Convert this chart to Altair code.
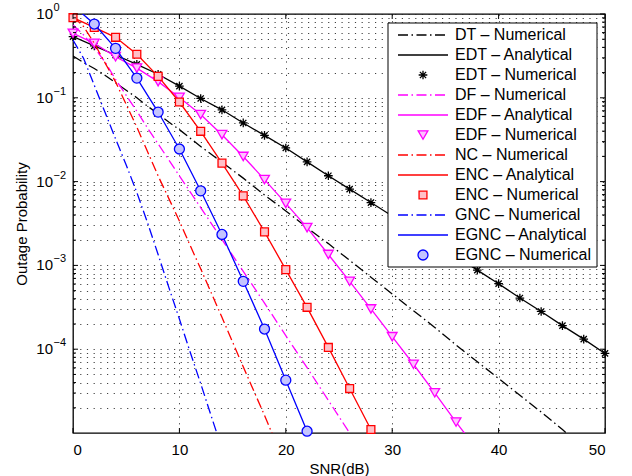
import altair as alt
import pandas as pd

# ---------------- data ----------------
SERIES = ["DT – Numerical", "EDT – Analytical", "EDT – Numerical",
          "DF – Numerical", "EDF – Analytical", "EDF – Numerical",
          "NC – Numerical", "ENC – Analytical", "ENC – Numerical",
          "GNC – Numerical", "EGNC – Analytical", "EGNC – Numerical"]

DT_SNR = [0, 1, 2, 3, 4, 5, 6, 7, 8, 9, 10, 12, 14, 16, 18, 20, 22, 24, 26, 28,
          30, 32, 34, 36, 38, 40, 42, 44, 46, 47]
DT_P = [0.316, 0.263, 0.224, 0.186, 0.151, 0.123, 0.100, 0.0794, 0.0646, 0.0513,
        0.0417, 0.0263, 0.0170, 0.0110, 0.00692, 0.00447, 0.00282, 0.00182,
        0.00115, 7.24e-4, 4.57e-4, 2.88e-4, 1.82e-4, 1.12e-4, 7.08e-5, 4.47e-5,
        2.82e-5, 1.78e-5, 1.10e-5, 8.5e-6]

EDT_A_SNR = [0, 2, 4, 6, 8, 10, 12, 14, 16, 18, 20, 22, 24, 26, 28, 30, 32, 34,
             36, 38, 40, 42, 44, 46, 48, 50]
EDT_A_P = [0.537, 0.417, 0.324, 0.251, 0.191, 0.138, 0.0982, 0.0719, 0.0501,
           0.0356, 0.0252, 0.0172, 0.01175, 0.00813, 0.00562, 0.00389, 0.00269,
           0.00186, 0.00129, 8.79e-4, 6.05e-4, 4.08e-4, 2.82e-4, 1.91e-4,
           1.32e-4, 8.9e-5]
EDT_N_SNR = [0, 2, 4, 6, 8, 10, 12, 14, 16, 18, 20, 22, 24, 26, 28, 30, 32, 34,
             36, 38, 40, 42, 44, 46, 48, 50]
EDT_N_P = [0.537, 0.417, 0.324, 0.251, 0.191, 0.138, 0.0982, 0.0719, 0.0501,
           0.0356, 0.0252, 0.0172, 0.01175, 0.00813, 0.00562, 0.00389, 0.00269,
           0.00186, 0.00129, 8.79e-4, 6.05e-4, 4.08e-4, 2.82e-4, 1.91e-4,
           1.32e-4, 8.9e-5]

DF_SNR = [0, 1, 2, 3, 4, 5, 6, 7, 8, 9, 10, 12, 14, 16, 18, 20, 22, 24, 26, 27]
DF_P = [0.741, 0.562, 0.398, 0.269, 0.166, 0.107, 0.0692, 0.0437, 0.0282, 0.0182,
        0.0117, 0.0049, 0.00204, 8.51e-4, 3.55e-4, 1.45e-4, 6.03e-5, 2.45e-5,
        1.0e-5, 5.8e-6]

EDF_A_SNR = [0, 2, 4, 6, 8, 10, 12, 14, 16, 18, 20, 22, 24, 26, 28, 30, 32, 34,
             36, 38]
EDF_A_P = [0.589, 0.447, 0.309, 0.226, 0.156, 0.101, 0.0631, 0.0363, 0.01995,
           0.01057, 0.0055, 0.00282, 0.00135, 6.46e-4, 3.02e-4, 1.41e-4, 6.61e-5,
           3.02e-5, 1.35e-5, 6.3e-6]
EDF_N_SNR = [0, 2, 4, 6, 8, 10, 12, 14, 16, 18, 20, 22, 24, 26, 28, 30, 32, 34, 36]
EDF_N_P = [0.589, 0.447, 0.309, 0.226, 0.156, 0.101, 0.0631, 0.0363, 0.01995,
           0.01057, 0.0055, 0.00282, 0.00135, 6.46e-4, 3.02e-4, 1.41e-4, 6.61e-5,
           3.02e-5, 1.35e-5]

NC_SNR = [0, 1, 2, 3, 4, 5, 6, 7, 8, 9, 10, 11, 12, 14, 16, 18, 19]
NC_P = [0.933, 0.708, 0.447, 0.263, 0.155, 0.0832, 0.0447, 0.0229, 0.0117,
        0.00631, 0.00339, 0.00174, 9.12e-4, 2.40e-4, 6.17e-5, 1.62e-5, 8.1e-6]

ENC_A_SNR = [0, 2, 4, 6, 8, 10, 12, 14, 16, 18, 20, 22, 24, 26, 28, 30]
ENC_A_P = [0.904, 0.692, 0.527, 0.331, 0.180, 0.0891, 0.0398, 0.0166, 0.00676,
           0.00251, 8.91e-4, 3.16e-4, 1.05e-4, 3.39e-5, 1.10e-5, 3.5e-6]
ENC_N_SNR = [0, 2, 4, 6, 8, 10, 12, 14, 16, 18, 20, 22, 24, 26, 28]
ENC_N_P = [0.904, 0.692, 0.527, 0.331, 0.180, 0.0891, 0.0398, 0.0166, 0.00676,
           0.00251, 8.91e-4, 3.16e-4, 1.05e-4, 3.39e-5, 1.10e-5]

GNC_SNR = [0, 1, 2, 3, 4, 5, 6, 7, 8, 9, 10, 11, 12, 13, 14]
GNC_P = [0.49, 0.295, 0.141, 0.0676, 0.0324, 0.0158, 0.00741, 0.00324, 0.00135,
         5.5e-4, 2.29e-4, 9.33e-5, 3.89e-5, 1.58e-5, 6.5e-6]

EGNC_A_SNR = [0, 2, 4, 6, 8, 10, 12, 14, 16, 18, 20, 22, 24]
EGNC_A_P = [1.26, 0.759, 0.389, 0.172, 0.0676, 0.0245, 0.00776, 0.00234, 6.46e-4,
            1.74e-4, 4.27e-5, 1.05e-5, 2.5e-6]
EGNC_N_SNR = [2, 4, 6, 8, 10, 12, 14, 16, 18, 20, 22]
EGNC_N_P = [0.759, 0.389, 0.172, 0.0676, 0.0245, 0.00776, 0.00234, 6.46e-4,
            1.74e-4, 4.27e-5, 1.05e-5]

X_TICKS = [0, 10, 20, 30, 40, 50]
Y_LABEL_VALUES = [1, 0.1, 0.01, 0.001, 0.0001]
Y_LABEL_EXP = ["0", "−1", "−2", "−3", "−4"]
Y_MINOR = [m * 10.0 ** e for e in range(-5, 0) for m in range(2, 10)]

# ---------------- styles ----------------
FONT = "Liberation Sans"
W, H = 532, 419
DASHDOT = [10, 3.5, 1.5, 3.5]
LW = 1.3
BLACK, MAGENTA, RED, BLUE = "#000000", "#ff00ff", "#ff0000", "#0000ff"
ASTERISK = "M-1,0L1,0M0,-1L0,1M-0.72,-0.72L0.72,0.72M-0.72,0.72L0.72,-0.72"

LEG_KIND = ["dashdot", "solid", "marker"] * 4
LEG_COLOR = [BLACK] * 3 + [MAGENTA] * 3 + [RED] * 3 + [BLUE] * 3
LEG_SHAPE = ["", "", ASTERISK, "", "", "triangle-down", "", "", "square", "", "", "circle"]
LEG_FILL = ["", "", "transparent", "", "", "#ffc0ff", "", "", "#ffc0c8", "", "", "#c4c4ff"]
LEG_SIZE = [0, 0, 75, 0, 0, 95, 0, 0, 62, 0, 0, 100]

xs = alt.Scale(domain=[0, 50], nice=False, zero=False)
ys = alt.Scale(type="log", domain=[1e-5, 1], nice=False)

X_AXIS = alt.Axis(values=X_TICKS, grid=True, gridDash=[1.2, 5.5], gridColor="#222",
                  gridOpacity=0.85, ticks=False, domain=False, labelFont=FONT,
                  labelFontSize=15, labelColor="#000", labelPadding=9,
                  title="SNR(dB)", titleFont=FONT, titleFontSize=15,
                  titleFontWeight="normal", titleColor="#000", titlePadding=4)
Y_AXIS = alt.Axis(values=Y_LABEL_VALUES + Y_MINOR, grid=True, gridDash=[1.2, 5.5],
                  gridColor="#222", gridOpacity=0.85, ticks=False, labels=False,
                  domain=False, title="Outage Probability", titleFont=FONT,
                  titleFontSize=15, titleFontWeight="normal", titleColor="#000",
                  titleX=-47, titleY=H / 2, titleAngle=-90,
                  titleBaseline="alphabetic", titleAlign="center")


def xq(field):
    return alt.X(f"{field}:Q", scale=xs, axis=X_AXIS)


def yq(field):
    return alt.Y(f"{field}:Q", scale=ys, axis=Y_AXIS)


def df(snr, p):
    return pd.DataFrame({"snr": snr, "p": p})


def line(snr, p, color, dashed):
    kw = dict(color=color, strokeWidth=LW, clip=True)
    if dashed:
        kw["strokeDash"] = DASHDOT
    return alt.Chart(df(snr, p)).mark_line(**kw).encode(x=xq("snr"), y=yq("p"))


def points(snr, p, shape, stroke, fill, size):
    return alt.Chart(df(snr, p)).mark_point(
        shape=shape, filled=True, fill=fill, stroke=stroke, strokeWidth=LW,
        size=size, opacity=1, clip=False
    ).encode(x=xq("snr"), y=yq("p"))


layers = [
    line(DT_SNR, DT_P, BLACK, True),
    line(EDT_A_SNR, EDT_A_P, BLACK, False),
    points(EDT_N_SNR, EDT_N_P, ASTERISK, BLACK, "transparent", 75),
    line(DF_SNR, DF_P, MAGENTA, True),
    line(EDF_A_SNR, EDF_A_P, MAGENTA, False),
    points(EDF_N_SNR, EDF_N_P, "triangle-down", MAGENTA, "#ffc0ff", 95),
    line(NC_SNR, NC_P, RED, True),
    line(ENC_A_SNR, ENC_A_P, RED, False),
    points(ENC_N_SNR, ENC_N_P, "square", RED, "#ffc0c8", 62),
    line(GNC_SNR, GNC_P, BLUE, True),
    line(EGNC_A_SNR, EGNC_A_P, BLUE, False),
    points(EGNC_N_SNR, EGNC_N_P, "circle", BLUE, "#c4c4ff", 100),
]

# inward ticks on all four sides
xt = pd.DataFrame({"v": X_TICKS})
ymaj = pd.DataFrame({"v": Y_LABEL_VALUES})
ymin = pd.DataFrame({"v": Y_MINOR})
tick_kw = dict(color="#000", strokeWidth=1)
for y0, y1 in [(H, H - 5), (0, 5)]:
    layers.append(alt.Chart(xt).mark_rule(**tick_kw).encode(
        x=xq("v"), y=alt.value(y0), y2=alt.value(y1)))
for data, ln in [(ymaj, 5), (ymin, 3)]:
    for x0, x1 in [(0, ln), (W, W - ln)]:
        layers.append(alt.Chart(data).mark_rule(**tick_kw).encode(
            y=yq("v"), x=alt.value(x0), x2=alt.value(x1)))

# y tick labels 10^k
ylab = pd.DataFrame({"v": Y_LABEL_VALUES, "base": "10", "exp": Y_LABEL_EXP})
layers.append(alt.Chart(ylab).mark_text(
    align="right", baseline="middle", font=FONT, fontSize=15, color="#000"
).encode(x=alt.value(-20), y=yq("v"), text="base:N"))
layers.append(alt.Chart(ylab).mark_text(
    align="left", baseline="middle", font=FONT, fontSize=11, color="#000", dy=-6
).encode(x=alt.value(-19.5), y=yq("v"), text="exp:N"))

# legend
leg = pd.DataFrame({"label": SERIES, "row": list(range(len(SERIES))), "kind": LEG_KIND,
                    "color": LEG_COLOR, "shape": LEG_SHAPE, "fill": LEG_FILL,
                    "msize": LEG_SIZE})
LEG_Y0, LEG_DY = 21, 20
leg_base = alt.Chart(leg).transform_calculate(py=f"{LEG_Y0} + {LEG_DY} * datum.row")
ypix = alt.Y("py:Q", scale=None, axis=None)

layers.append(alt.Chart(pd.DataFrame({"a": [0]})).mark_rect(
    fill="white", stroke="#000", strokeWidth=1
).encode(x=alt.value(315), x2=alt.value(524), y=alt.value(9), y2=alt.value(253)))
layers.append(leg_base.transform_filter("datum.kind == 'dashdot'").mark_rule(
    strokeDash=DASHDOT, strokeWidth=LW
).encode(x=alt.value(325), x2=alt.value(375), y=ypix,
         color=alt.Color("color:N", scale=None)))
layers.append(leg_base.transform_filter("datum.kind == 'solid'").mark_rule(
    strokeWidth=LW
).encode(x=alt.value(325), x2=alt.value(375), y=ypix,
         color=alt.Color("color:N", scale=None)))
layers.append(leg_base.transform_filter("datum.kind == 'marker'").mark_point(
    filled=True, opacity=1, strokeWidth=LW
).encode(x=alt.value(350), y=ypix,
         shape=alt.Shape("shape:N", scale=None),
         fill=alt.Fill("fill:N", scale=None),
         stroke=alt.Stroke("color:N", scale=None),
         size=alt.Size("msize:Q", scale=None)))
layers.append(leg_base.mark_text(
    align="left", baseline="middle", font=FONT, fontSize=16, color="#000"
).encode(x=alt.value(382), y=ypix, text="label:N"))

chart = alt.layer(*layers).properties(
    width=W, height=H,
    padding={"left": 73, "top": 14, "right": 27, "bottom": 43},
    autosize=alt.AutoSizeParams(type="none"),
    background="white",
).configure_view(stroke="#000", strokeWidth=1.3)

chart.save("out.html", embed_options={"renderer": "svg", "actions": False})
